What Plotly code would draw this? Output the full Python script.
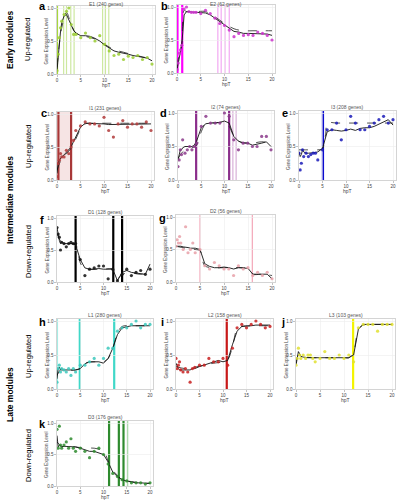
import plotly.graph_objects as go

W, H = 398, 500

# ---------------- data ----------------
T = [0, 0.25, 0.5, 0.75, 1, 1.5, 2, 2.5, 3, 3.5, 4, 5, 6, 7, 8, 9, 10, 11, 12, 13, 14, 15, 16, 17, 18, 19, 20]

TITLES = ["E1 (240 genes)", "E2 (62 genes)", "I1 (231 genes)", "I2 (74 genes)", "I3 (208 genes)",
          "D1 (128 genes)", "D2 (56 genes)", "L1 (280 genes)", "L2 (158 genes)", "L3 (103 genes)",
          "D3 (176 genes)"]
LETTERS = ["a", "b", "c", "d", "e", "f", "g", "h", "i", "j", "k"]

A_PTS = [0.05, 0.3, 0.55, 0.7, 0.8, 0.9, 0.95, 1.0, 0.75, 0.6, 0.6, 0.55, 0.62, 0.55, 0.5, 0.58, 0.45, 0.35, 0.28, 0.3, 0.22, 0.27, 0.25, 0.28, 0.22, 0.25, 0.15]
A_SMOOTH = [0.05, 0.3, 0.5, 0.65, 0.78, 0.88, 0.9, 0.82, 0.72, 0.66, 0.62, 0.58, 0.58, 0.57, 0.54, 0.5, 0.44, 0.4, 0.35, 0.33, 0.32, 0.3, 0.28, 0.27, 0.26, 0.24, 0.2]
A_FIT_T = [0, 1, 2, 3, 4, 6, 8, 10, 12, 14, 16, 18, 20]
A_FIT = [0.1, 0.7, 0.93, 0.75, 0.62, 0.57, 0.53, 0.45, 0.37, 0.33, 0.29, 0.26, 0.22]

B_PTS = [0.05, 0.15, 0.3, 0.35, 0.42, 0.97, 1.0, 0.93, 0.92, 0.92, 0.92, 0.9, 0.95, 0.9, 0.83, 0.75, 0.72, 0.65, 0.55, 0.6, 0.57, 0.58, 0.57, 0.62, 0.6, 0.57, 0.5]
B_SMOOTH = [0.05, 0.15, 0.28, 0.35, 0.42, 0.88, 0.93, 0.93, 0.92, 0.92, 0.92, 0.92, 0.91, 0.88, 0.83, 0.77, 0.72, 0.67, 0.63, 0.62, 0.6, 0.6, 0.6, 0.6, 0.6, 0.59, 0.57]
B_FIT_T = [0, 0.5, 1, 1.5, 2, 4, 6, 8, 10, 12, 14, 16, 18, 20]
B_FIT = [0.1, 0.3, 0.45, 0.95, 0.93, 0.93, 0.93, 0.85, 0.75, 0.67, 0.64, 0.64, 0.64, 0.64]

C_PTS = [0.05, 0.25, 0.3, 0.4, 0.35, 0.35, 0.45, 0.4, 0.5, 0.6, 0.75, 0.82, 0.88, 0.85, 0.85, 0.82, 0.95, 0.75, 0.65, 0.85, 0.9, 0.8, 0.85, 0.85, 0.8, 0.88, 0.75]
C_SMOOTH = [0.1, 0.25, 0.3, 0.33, 0.35, 0.38, 0.42, 0.46, 0.5, 0.58, 0.66, 0.8, 0.86, 0.86, 0.85, 0.85, 0.85, 0.84, 0.84, 0.85, 0.85, 0.85, 0.85, 0.85, 0.85, 0.85, 0.85]
C_FIT_T = [0, 1, 2, 3, 4, 5, 6, 8, 10, 12, 14, 16, 18, 20]
C_FIT = [0.15, 0.32, 0.4, 0.48, 0.62, 0.77, 0.85, 0.86, 0.86, 0.86, 0.86, 0.86, 0.86, 0.86]

D_PTS = [0.2, 0.3, 0.45, 0.38, 0.6, 0.4, 0.45, 0.5, 0.45, 0.5, 0.55, 0.8, 0.95, 0.85, 0.85, 0.85, 1.0, 0.95, 0.6, 0.45, 0.55, 0.55, 0.5, 0.5, 0.65, 0.65, 0.45]
D_SMOOTH = [0.3, 0.38, 0.45, 0.45, 0.48, 0.5, 0.5, 0.5, 0.5, 0.52, 0.58, 0.78, 0.84, 0.85, 0.85, 0.86, 0.88, 0.85, 0.65, 0.58, 0.55, 0.55, 0.52, 0.53, 0.55, 0.57, 0.5]
D_FIT_T = [0, 1, 2, 3, 4, 5, 6, 8, 10, 11, 12, 13, 14, 16, 18, 20]
D_FIT = [0.32, 0.42, 0.46, 0.48, 0.52, 0.72, 0.84, 0.85, 0.86, 0.8, 0.65, 0.58, 0.56, 0.55, 0.57, 0.55]

E_PTS = [0.4, 0.15, 0.25, 0.45, 0.35, 0.4, 0.35, 0.38, 0.4, 0.4, 0.3, 0.45, 0.75, 0.75, 0.85, 0.6, 0.75, 0.95, 0.85, 0.75, 0.75, 0.8, 0.85, 0.9, 0.95, 0.85, 0.9]
E_SMOOTH = [0.42, 0.35, 0.38, 0.45, 0.42, 0.4, 0.4, 0.4, 0.4, 0.41, 0.42, 0.47, 0.72, 0.75, 0.74, 0.73, 0.74, 0.76, 0.74, 0.77, 0.78, 0.78, 0.8, 0.83, 0.87, 0.9, 0.82]
E_FIT_T = [0, 1, 2, 4, 5, 5.7, 6, 8, 10, 12, 14, 16, 18, 20]
E_FIT = [0.45, 0.45, 0.45, 0.45, 0.47, 0.7, 0.85, 0.85, 0.85, 0.85, 0.85, 0.85, 0.85, 0.85]

F_PTS = [0.85, 0.75, 0.7, 0.5, 0.62, 0.6, 0.55, 0.6, 0.62, 0.6, 0.6, 0.35, 0.1, 0.2, 0.22, 0.25, 0.25, 0.05, 0.2, 0.02, 0.12, 0.2, 0.1, 0.15, 0.18, 0.12, 0.2]
F_SMOOTH = [0.85, 0.72, 0.65, 0.6, 0.62, 0.6, 0.6, 0.6, 0.6, 0.6, 0.58, 0.35, 0.22, 0.2, 0.2, 0.21, 0.2, 0.2, 0.2, 0.02, 0.15, 0.18, 0.15, 0.14, 0.13, 0.12, 0.28]
F_FIT_T = [0, 1, 2, 4, 5, 6, 8, 10, 12, 13, 14, 16, 18, 20]
F_FIT = [0.75, 0.62, 0.6, 0.58, 0.3, 0.2, 0.2, 0.2, 0.2, 0.05, 0.12, 0.14, 0.12, 0.15]

G_PTS = [0.55, 0.65, 0.6, 0.7, 0.6, 0.5, 0.85, 0.45, 0.5, 0.6, 0.45, 0.5, 0.25, 0.2, 0.3, 0.25, 0.2, 0.2, 0.1, 0.25, 0.2, 0.22, 0.1, 0.15, 0.1, 0.15, 0.05]
G_SMOOTH = [0.55, 0.55, 0.56, 0.55, 0.55, 0.54, 0.54, 0.53, 0.52, 0.52, 0.52, 0.5, 0.28, 0.24, 0.22, 0.22, 0.23, 0.22, 0.2, 0.22, 0.22, 0.21, 0.12, 0.12, 0.13, 0.12, 0.05]
G_FIT_T = [0, 2, 4, 5, 6, 8, 10, 12, 14, 15, 16, 18, 20]
G_FIT = [0.55, 0.52, 0.5, 0.48, 0.25, 0.22, 0.22, 0.22, 0.22, 0.2, 0.12, 0.12, 0.1]

H_PTS = [0.1, 0.3, 0.35, 0.25, 0.3, 0.28, 0.25, 0.3, 0.2, 0.3, 0.25, 0.35, 0.35, 0.4, 0.45, 0.35, 0.45, 0.6, 0.6, 0.85, 0.9, 0.9, 0.95, 1.0, 0.9, 0.95, 0.95]
H_SMOOTH = [0.15, 0.3, 0.32, 0.28, 0.28, 0.28, 0.27, 0.27, 0.27, 0.28, 0.28, 0.3, 0.37, 0.4, 0.4, 0.4, 0.38, 0.45, 0.6, 0.8, 0.9, 0.92, 0.93, 0.93, 0.93, 0.93, 0.93]
H_FIT_T = [0, 1, 2, 4, 5, 6, 8, 10, 11, 12, 13, 14, 16, 18, 20]
H_FIT = [0.2, 0.3, 0.28, 0.28, 0.3, 0.38, 0.4, 0.4, 0.45, 0.6, 0.82, 0.92, 0.93, 0.93, 0.93]

I_PTS = [0.45, 0.3, 0.35, 0.4, 0.28, 0.25, 0.3, 0.25, 0.1, 0.3, 0.32, 0.35, 0.35, 0.45, 0.4, 0.4, 0.45, 0.35, 0.6, 0.9, 0.95, 0.9, 0.95, 1.0, 0.95, 0.9, 0.92]
I_SMOOTH = [0.38, 0.32, 0.3, 0.28, 0.28, 0.27, 0.27, 0.28, 0.28, 0.3, 0.3, 0.33, 0.35, 0.37, 0.4, 0.42, 0.4, 0.42, 0.65, 0.85, 0.92, 0.92, 0.93, 0.94, 0.94, 0.94, 0.94]
I_FIT_T = [0, 2, 4, 6, 8, 10, 11, 12, 13, 14, 16, 18, 20]
I_FIT = [0.33, 0.3, 0.32, 0.35, 0.38, 0.4, 0.43, 0.62, 0.88, 0.92, 0.93, 0.93, 0.93]

J_PTS = [0.35, 0.45, 0.6, 0.5, 0.45, 0.5, 0.45, 0.5, 0.5, 0.45, 0.4, 0.45, 0.55, 0.45, 0.45, 0.5, 0.45, 0.5, 0.4, 0.9, 0.95, 0.95, 0.95, 0.85, 0.95, 0.95, 0.95]
J_SMOOTH = [0.35, 0.45, 0.55, 0.52, 0.48, 0.47, 0.46, 0.46, 0.46, 0.46, 0.46, 0.46, 0.46, 0.46, 0.46, 0.46, 0.46, 0.46, 0.5, 0.88, 0.95, 0.95, 0.95, 0.95, 0.95, 0.95, 0.95]
J_FIT_T = [0, 0.5, 1, 2, 4, 6, 8, 10, 11, 12, 13, 14, 16, 18, 20]
J_FIT = [0.38, 0.5, 0.5, 0.47, 0.46, 0.46, 0.46, 0.46, 0.46, 0.55, 0.88, 0.94, 0.95, 0.95, 0.95]

K_PTS = [0.9, 0.6, 0.95, 0.65, 0.6, 0.65, 0.7, 0.6, 0.75, 0.6, 0.55, 0.6, 0.55, 0.45, 0.55, 0.6, 0.5, 0.35, 0.2, 0.15, 0.1, 0.08, 0.05, 0.05, 0.05, 0.03, 0.05]
K_SMOOTH = [0.8, 0.62, 0.65, 0.63, 0.62, 0.63, 0.63, 0.62, 0.62, 0.62, 0.62, 0.6, 0.58, 0.55, 0.55, 0.53, 0.5, 0.38, 0.22, 0.15, 0.1, 0.08, 0.06, 0.05, 0.05, 0.04, 0.04]
K_FIT_T = [0, 1, 2, 4, 6, 8, 10, 11, 12, 13, 14, 16, 18, 20]
K_FIT = [0.7, 0.63, 0.63, 0.62, 0.6, 0.6, 0.55, 0.4, 0.25, 0.17, 0.1, 0.07, 0.05, 0.04]

# marker times (vertical lines): (time, strength) 2 = strong, 1 = light
A_VLINES = [(0, 2), (1.4, 1), (2, 1), (2.9, 1), (3.6, 1), (9.6, 1), (10.2, 1), (10.9, 1)]
B_VLINES = [(0.1, 2), (1.1, 2), (8.6, 1), (9.3, 1), (10.1, 1), (11, 1)]
C_VLINES = [(0.3, 2), (3, 2)]
D_VLINES = [(3.9, 2), (9.9, 1), (11, 2), (11.8, 1), (12.5, 1)]
E_VLINES = [(5.1, 2)]
F_VLINES = [(4, 2), (12.1, 2), (14, 2)]
G_VLINES = [(5, 1), (15.9, 1)]
H_VLINES = [(0.1, 1), (4.9, 2), (12.3, 2)]
I_VLINES = [(10.8, 2)]
J_VLINES = [(11.9, 2)]
K_VLINES = [(11.2, 2), (13.3, 2), (14.3, 2), (15.2, 1)]

PTS = [A_PTS, B_PTS, C_PTS, D_PTS, E_PTS, F_PTS, G_PTS, H_PTS, I_PTS, J_PTS, K_PTS]
SMOOTH = [A_SMOOTH, B_SMOOTH, C_SMOOTH, D_SMOOTH, E_SMOOTH, F_SMOOTH, G_SMOOTH, H_SMOOTH, I_SMOOTH, J_SMOOTH, K_SMOOTH]
FIT_T = [A_FIT_T, B_FIT_T, C_FIT_T, D_FIT_T, E_FIT_T, F_FIT_T, G_FIT_T, H_FIT_T, I_FIT_T, J_FIT_T, K_FIT_T]
FIT = [A_FIT, B_FIT, C_FIT, D_FIT, E_FIT, F_FIT, G_FIT, H_FIT, I_FIT, J_FIT, K_FIT]
VLINES = [A_VLINES, B_VLINES, C_VLINES, D_VLINES, E_VLINES, F_VLINES, G_VLINES, H_VLINES, I_VLINES, J_VLINES, K_VLINES]

# ---------------- styles / geometry ----------------
PT_COLORS = ["#9acd32", "#cc33cc", "#b03a3a", "#8b3a8b", "#1a1ab8", "#111111", "#e8a0a8",
             "#3cc8bc", "#c82020", "#e0e030", "#2e8b2e"]
STRONG = ["#a8d83c", "#ff00ff", "#a83838", "#8b2d8b", "#0a0ad0", "#000000", "#f4a6b8",
          "#40d8c8", "#c81818", "#f4f400", "#2e8b2e"]
LIGHT = ["#cde8a0", "#f2a8f2", "#d8a0a0", "#d8b0d8", "#9090e8", "#888888", "#f4a6b8",
         "#a8ece4", "#e89090", "#f8f8a0", "#a8d8a8"]
# pixel geometry: x of t=0, x of t=20, y of value 0, y of value 1, letter x, letter y
GEOM = [
    (57, 152, 74, 8, 42, 6), (177, 272, 73, 7, 164, 6),
    (57, 151, 180, 114, 44, 113), (178, 271, 180, 113, 163, 113), (299, 393, 180, 113, 285, 113),
    (57, 150, 282, 218, 42, 220), (176, 272, 282, 217, 162, 218),
    (57, 150, 389, 321, 42, 322), (176, 270, 389, 321, 162, 322), (296, 392, 389, 321, 283, 322),
    (57, 150, 486, 423, 42, 424),
]
XMAX = 20.7
YMAX = 1.03

fig = go.Figure()
annotations = []
shapes = []

for i in range(11):
    n = "" if i == 0 else str(i + 1)
    xr, yr = "x" + n, "y" + n
    x0, x20, y0, y1, lx, ly = GEOM[i]
    pxh = (x20 - x0) / 20.0
    right = x0 + XMAX * pxh
    top = y1 - (YMAX - 1) * (y0 - y1)
    fig.layout["xaxis" + n] = dict(
        domain=[x0 / W, right / W], range=[0, XMAX], anchor=yr,
        tickvals=[0, 5, 10, 15, 20], ticks="outside", ticklen=2, tickwidth=0.6,
        tickcolor="#999", tickfont=dict(size=4.5, color="#444"),
        showline=True, linecolor="#b8b8b8", linewidth=0.6, mirror=True,
        showgrid=True, gridcolor="#ececec", gridwidth=0.6, zeroline=False,
        automargin=False, fixedrange=True)
    fig.layout["yaxis" + n] = dict(
        domain=[1 - y0 / H, 1 - top / H], range=[0, YMAX], anchor=xr,
        tickvals=[0, 0.5, 1], ticktext=["0.0", "0.5", "1.0"], ticks="outside", ticklen=2,
        tickwidth=0.6, tickcolor="#999", tickfont=dict(size=4.5, color="#444"),
        showline=True, linecolor="#b8b8b8", linewidth=0.6, mirror=True,
        showgrid=True, gridcolor="#ececec", gridwidth=0.6, zeroline=False,
        automargin=False, fixedrange=True)

    # vertical marker lines
    if i == 2:
        shapes.append(dict(type="rect", xref=xr, yref=yr + " domain", x0=VLINES[i][0][0],
                           x1=VLINES[i][1][0], y0=0, y1=1, fillcolor="#f6e4e4",
                           line=dict(width=0), layer="below"))
    for (t, s) in VLINES[i]:
        shapes.append(dict(type="line", xref=xr, yref=yr + " domain", x0=t, x1=t, y0=0, y1=1,
                           line=dict(color=STRONG[i] if s == 2 else LIGHT[i],
                                     width=2.2 if s == 2 else 1.2),
                           layer="below"))

    fig.add_trace(go.Scatter(x=FIT_T[i], y=FIT[i], mode="lines", xaxis=xr, yaxis=yr,
                             line=dict(color="#222", width=0.8, dash="dash", shape="spline"),
                             showlegend=False, hoverinfo="skip"))
    fig.add_trace(go.Scatter(x=T, y=SMOOTH[i], mode="lines", xaxis=xr, yaxis=yr,
                             line=dict(color="#111", width=0.9),
                             showlegend=False, hoverinfo="skip"))
    fig.add_trace(go.Scatter(x=T, y=PTS[i], mode="markers", xaxis=xr, yaxis=yr,
                             marker=dict(color=PT_COLORS[i], size=3.2, opacity=0.85,
                                         line=dict(width=0)),
                             showlegend=False))

    # title
    ty = max(top - 4, 4)
    annotations.append(dict(text=TITLES[i], x=(x0 + right) / 2 / W, y=1 - ty / H,
                            xref="paper", yref="paper", showarrow=False,
                            font=dict(size=5, color="#555"), xanchor="center", yanchor="middle"))
    # panel letter
    annotations.append(dict(text="<b>" + LETTERS[i] + "</b>", x=lx / W, y=1 - ly / H,
                            xref="paper", yref="paper", showarrow=False,
                            font=dict(size=11, color="#000", family="Liberation Sans"),
                            xanchor="center", yanchor="middle"))
    # axis titles
    hy = min(y0 + 10.5, H - 3.2)
    annotations.append(dict(text="hpT", x=(x0 + right) / 2 / W, y=1 - hy / H,
                            xref="paper", yref="paper", showarrow=False,
                            font=dict(size=5, color="#444"), xanchor="center", yanchor="middle"))
    annotations.append(dict(text="Gene Expression Level", x=(x0 - 10.5) / W,
                            y=1 - ((y0 + y1) / 2) / H, xref="paper", yref="paper",
                            showarrow=False, textangle=-90,
                            font=dict(size=4.5, color="#444"), xanchor="center", yanchor="middle"))

# row group labels
SIDE = [("<b>Early modules</b>", 10, 40, 8.5), ("Up-regulated", 28, 40, 7.5),
        ("<b>Intermediate modules</b>", 10, 200, 8.5), ("Up-regulated", 28, 147, 7.5),
        ("Down-regulated", 28, 252, 7.5),
        ("<b>Late modules</b>", 10, 395, 8.5), ("Up-regulated", 28, 357, 7.5),
        ("Down-regulated", 28, 456, 7.5)]
for (txt, x, y, s) in SIDE:
    annotations.append(dict(text=txt, x=x / W, y=1 - y / H, xref="paper", yref="paper",
                            showarrow=False, textangle=-90,
                            font=dict(size=s, color="#000", family="Liberation Sans"),
                            xanchor="center", yanchor="middle"))

fig.update_layout(width=W, height=H, margin=dict(l=0, r=0, t=0, b=0),
                  paper_bgcolor="white", plot_bgcolor="white",
                  font=dict(family="Liberation Sans"),
                  annotations=annotations, shapes=shapes, showlegend=False)

fig.write_html("out.html", config={"displayModeBar": False, "staticPlot": True})

# remove the default page margin so the 398x500 figure fills the window exactly
with open("out.html", "r", encoding="utf-8") as fh:
    html = fh.read()
html = html.replace("<head>", "<head><style>html,body{margin:0;padding:0;overflow:hidden;}</style>", 1)
with open("out.html", "w", encoding="utf-8") as fh:
    fh.write(html)
